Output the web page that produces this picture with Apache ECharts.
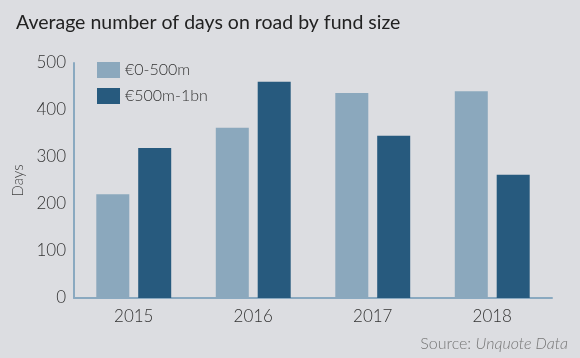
<!DOCTYPE html>
<html><head><meta charset="utf-8">
<script src="https://cdn.jsdelivr.net/npm/echarts@6/dist/echarts.min.js"></script>
<style>html,body{margin:0;padding:0;background:#dcdde1}#c{width:580px;height:358px}</style>
</head><body><div id="c"></div>
<script>
const categories = ['2015','2016','2017','2018'];
const seriesNames = ['€0-500m','€500m-1bn'];
const small = [221, 362, 436, 440];
const large = [319, 460, 345, 262];
const yTicks = [0, 100, 200, 300, 400, 500];

const chart = echarts.init(document.getElementById('c'), null, {renderer:'canvas'});
const font = 'Lato, "Open Sans", sans-serif';
chart.setOption({
  backgroundColor: '#dcdde1',
  animation: false,
  title: [{
    text: 'Average number of days on road by fund size',
    left: 11, top: 8,
    textStyle: {fontFamily: font, fontSize: 19.5, fontWeight: 'normal', color: '#222'}
  }, {
    text: '{n|Source: }{i|Unquote Data}',
    right: 7, top: 331,
    textStyle: {fontWeight: 'normal', rich: {
      n: {fontFamily: font, fontSize: 16, color: '#777', fontWeight: 300},
      i: {fontFamily: font, fontSize: 16, color: '#777', fontStyle: 'italic', fontWeight: 300}
    }}
  }],
  legend: {
    left: 92, top: 57, orient: 'vertical', itemWidth: 23, itemHeight: 16, itemGap: 10,
    icon: 'rect',
    textStyle: {fontFamily: font, fontSize: 16, color: '#333', fontWeight: 300},
    data: seriesNames
  },
  grid: {left: 74, right: 28, top: 63, bottom: 60},
  xAxis: {
    type: 'category', data: categories,
    axisLine: {lineStyle: {color: '#8aa9c0', width: 2}},
    axisTick: {show: false},
    axisLabel: {fontFamily: font, fontSize: 17, color: '#333', margin: 10, fontWeight: 300}
  },
  yAxis: {
    type: 'value', min: 0, max: 500, interval: 100,
    name: 'Days', nameLocation: 'middle', nameGap: 44, nameRotate: 90,
    nameTextStyle: {fontFamily: font, fontSize: 15, color: '#444', fontWeight: 300},
    axisLine: {show: true, lineStyle: {color: '#8aa9c0', width: 2}},
    axisTick: {show: false},
    splitLine: {show: false},
    axisLabel: {fontFamily: font, fontSize: 17, color: '#333', margin: 8, fontWeight: 300,
      formatter: v => yTicks.includes(v) ? String(v) : ''}
  },
  series: [
    {name: seriesNames[0], type: 'bar', data: small, barWidth: 33, barGap: '27%',
     itemStyle: {color: '#8ba8bd'}},
    {name: seriesNames[1], type: 'bar', data: large, barWidth: 33, barGap: '27%',
     itemStyle: {color: '#275a7e'}}
  ]
});
</script></body></html>
